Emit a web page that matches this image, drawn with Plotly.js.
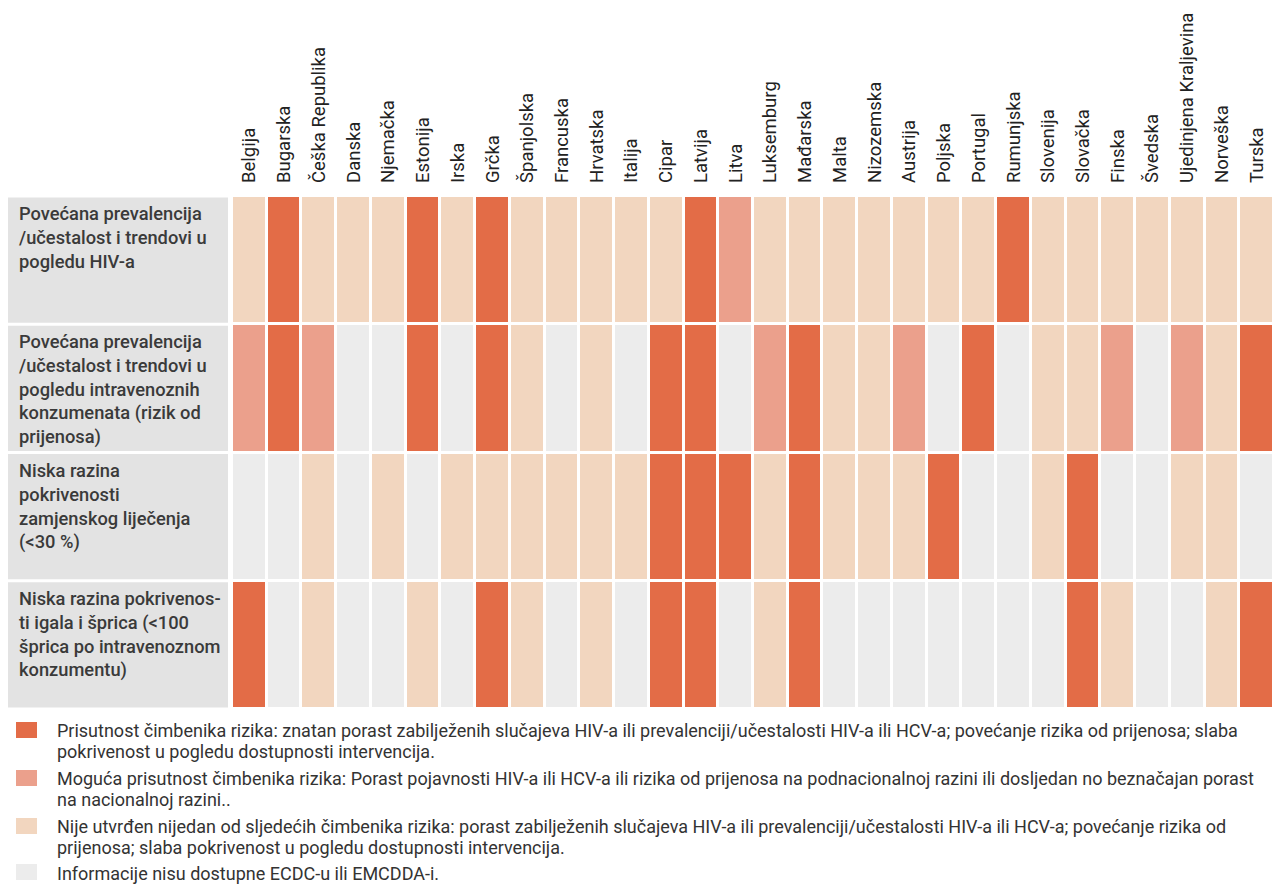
<!DOCTYPE html>
<html>
<head>
<meta charset="utf-8">
<script src="https://cdn.plot.ly/plotly-3.0.1.min.js"></script>
<style>html,body{margin:0;padding:0;background:#fff;}#chart{width:1275px;height:886px;}</style>
</head>
<body>
<div id="chart"></div>
<script>
// Countries (columns)
const countries = ["Belgija","Bugarska","Češka Republika","Danska","Njemačka","Estonija","Irska","Grčka","Španjolska","Francuska","Hrvatska","Italija","Cipar","Latvija","Litva","Luksemburg","Mađarska","Malta","Nizozemska","Austrija","Poljska","Portugal","Rumunjska","Slovenija","Slovačka","Finska","Švedska","Ujedinjena Kraljevina","Norveška","Turska"];

// Row labels (risk factors)
const rowLabels = [
  "Povećana prevalencija<br>/učestalost i trendovi u<br>pogledu HIV-a",
  "Povećana prevalencija<br>/učestalost i trendovi u<br>pogledu intravenoznih<br>konzumenata (rizik od<br>prijenosa)",
  "Niska razina<br>pokrivenosti<br>zamjenskog liječenja<br>(&lt;30 %)",
  "Niska razina pokrivenos-<br>ti igala i šprica (&lt;100<br>šprica po intravenoznom<br>konzumentu)"
];
const rowKeys = ["hiv","idu","ost","nsp"];

// Status codes: 0 = no info, 1 = none identified, 2 = possible, 3 = present
const hivTrend   = [1,3,1,1,1,3,1,3,1,1,1,1,1,3,2,1,1,1,1,1,1,1,3,1,1,1,1,1,1,1];
const iduTrend   = [2,3,2,0,0,3,0,3,1,0,1,0,3,3,0,2,3,1,1,2,0,3,0,1,1,2,0,2,1,3];
const ostCoverage= [0,0,1,0,1,0,1,1,1,1,1,1,3,3,3,1,3,1,1,1,3,0,0,1,3,0,0,1,1,0];
const nspCoverage= [3,0,1,0,0,1,0,3,1,0,1,0,3,3,0,1,3,0,0,0,0,0,0,0,3,1,0,0,1,3];

// Legend texts (one array of lines per item)
const legendTexts = [
  ["Prisutnost čimbenika rizika: znatan porast zabilježenih slučajeva HIV-a ili prevalenciji/učestalosti HIV-a ili HCV-a; povećanje rizika od prijenosa; slaba",
   "pokrivenost u pogledu dostupnosti intervencija."],
  ["Moguća prisutnost čimbenika rizika: Porast pojavnosti HIV-a ili HCV-a ili rizika od prijenosa na podnacionalnoj razini ili dosljedan no beznačajan porast",
   "na nacionalnoj razini.."],
  ["Nije utvrđen nijedan od sljedećih čimbenika rizika: porast zabilježenih slučajeva HIV-a ili prevalenciji/učestalosti HIV-a ili HCV-a; povećanje rizika od",
   "prijenosa; slaba pokrivenost u pogledu dostupnosti intervencija."],
  ["Informacije nisu dostupne ECDC-u ili EMCDDA-i."]
];

const cGrey = "#ececec", cLight = "#f2d6bf", cPossible = "#eba08c", cPresent = "#e36c47";
const legendColors = [cPresent, cPossible, cLight, cGrey];

const z = [hivTrend, iduTrend, ostCoverage, nspCoverage];

const trace = {
  type: "heatmap",
  x: countries,
  y: rowKeys,
  z: z,
  zmin: -0.5, zmax: 3.5,
  colorscale: [[0,cGrey],[0.25,cGrey],[0.25,cLight],[0.5,cLight],[0.5,cPossible],[0.75,cPossible],[0.75,cPresent],[1,cPresent]],
  showscale: false,
  xgap: 3, ygap: 3,
  hoverinfo: "skip"
};

const FONT = "Roboto, 'Noto Sans', sans-serif";
const W = 1275, H = 886;
const mL = 232, mR = 1, mT = 196, mB = 177;
const plotW = W - mL - mR, plotH = H - mT - mB;
const px2x = p => (p - mL) / plotW;
const py2y = p => (H - mB - p) / plotH;

const shapes = [];
const annotations = [];
rowKeys.forEach((k, i) => {
  shapes.push({type:"rect", xref:"paper", yref:"y", x0: px2x(8), x1: px2x(228), y0: i-0.488, y1: i+0.488,
    fillcolor:"#e3e3e3", line:{width:0}, layer:"below"});
  annotations.push({xref:"paper", yref:"y", x: px2x(17), y: i-0.5, xanchor:"left", yanchor:"top", yshift:-5,
    text: rowLabels[i], showarrow:false, align:"left",
    font:{family:FONT, size:18.3, color:"#3a3a3a", weight:500}});
});
const itemTops = [722, 770, 818, 864];
const lineGap = 20.5;
legendTexts.forEach((lines, i) => {
  const top = itemTops[i];
  shapes.push({type:"rect", xref:"paper", yref:"paper", x0: px2x(16), x1: px2x(37), y0: py2y(top), y1: py2y(top+16),
    fillcolor: legendColors[i], line:{width:0}});
  lines.forEach((ln, j) => {
    annotations.push({xref:"paper", yref:"paper", x: px2x(55), y: py2y(top + 9 + j*lineGap), xanchor:"left", yanchor:"middle",
      text: ln, showarrow:false, align:"left", font:{family:FONT, size:18, color:"#333"}});
  });
});

const layout = {
  width: W, height: H,
  margin: {l:mL, r:mR, t:mT, b:mB, pad:0, autoexpand:false},
  paper_bgcolor:"#fff", plot_bgcolor:"#fff",
  font: {family: FONT, color:"#222"},
  xaxis: {side:"top", type:"category", tickangle:-90, showgrid:false, zeroline:false, showline:false, automargin:false,
    range:[-0.5, countries.length - 0.5], autorange:false,
    ticks:"", ticklabelstandoff: 12, tickfont:{family:FONT, size:18.5, color:"#222"}, fixedrange:true},
  yaxis: {type:"category", categoryarray: rowKeys, range:[rowKeys.length - 0.5, -0.5], autorange:false,
    showticklabels:false, showgrid:false, automargin:false,
    zeroline:false, showline:false, ticks:"", fixedrange:true},
  shapes: shapes,
  annotations: annotations,
  showlegend:false
};

Plotly.newPlot("chart", [trace], layout, {staticPlot:true, displayModeBar:false});
</script>
</body>
</html>
